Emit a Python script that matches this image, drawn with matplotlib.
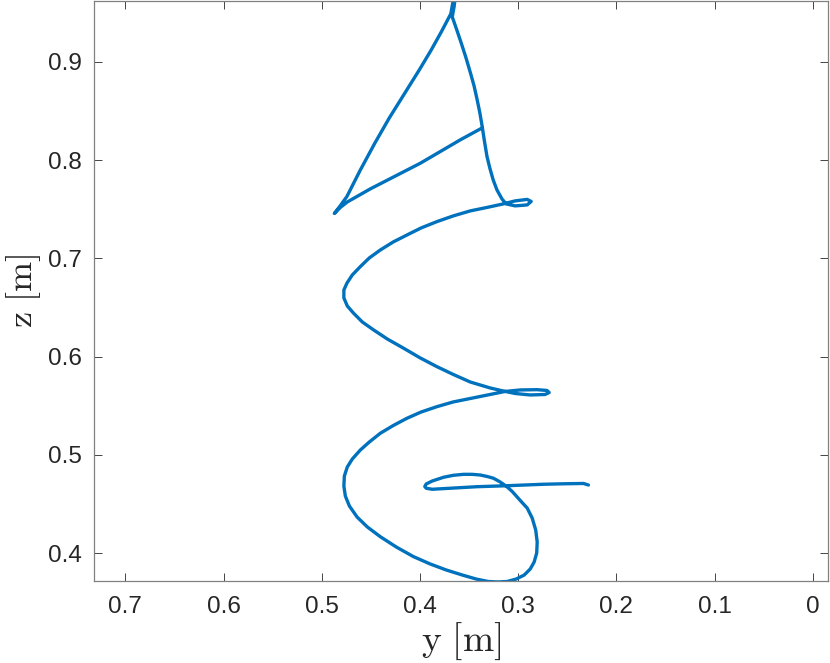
import matplotlib
matplotlib.use("Agg")
import matplotlib.pyplot as plt

# trajectory (horizontal: y [m], vertical: z [m])
y_pos = [0.2284, 0.2335, 0.2521, 0.2742, 0.3114, 0.3420, 0.3691, 0.3875, 0.3936, 0.3951,
         0.3936, 0.3875, 0.3760, 0.3661, 0.3556, 0.3468, 0.3386, 0.3315, 0.3251, 0.3183,
         0.3114, 0.3060, 0.3013, 0.2969, 0.2908, 0.2857, 0.2821, 0.2806, 0.2811, 0.2837,
         0.2877, 0.2938, 0.3020, 0.3111, 0.3203, 0.3305, 0.3427, 0.3569, 0.3732, 0.3895,
         0.4068, 0.4241, 0.4404, 0.4536, 0.4641, 0.4719, 0.4760, 0.4775, 0.4770, 0.4740,
         0.4689, 0.4607, 0.4516, 0.4404, 0.4272, 0.4132, 0.3987, 0.3827, 0.3661, 0.3488,
         0.3315, 0.3132, 0.2979, 0.2809, 0.2707, 0.2684, 0.2725, 0.2877, 0.3030, 0.3132,
         0.3284, 0.3488, 0.3661, 0.3827, 0.3997, 0.4167, 0.4333, 0.4472, 0.4587, 0.4676,
         0.4740, 0.4775, 0.4775, 0.4743, 0.4689, 0.4607, 0.4516, 0.4404, 0.4272, 0.4132,
         0.3987, 0.3827, 0.3661, 0.3488, 0.3318, 0.3152, 0.3030, 0.2908, 0.2867, 0.2908,
         0.3030, 0.3122, 0.3165, 0.3216, 0.3254, 0.3289, 0.3317, 0.3342, 0.3366, 0.3390,
         0.3417, 0.3449, 0.3485, 0.3531, 0.3579, 0.3625, 0.3671, 0.3651, 0.3641, 0.3666,
         0.3686, 0.3783, 0.3885, 0.4007, 0.4155, 0.4312, 0.4460, 0.4607, 0.4745, 0.4821,
         0.4872, 0.4811, 0.4740, 0.4506, 0.3997, 0.3590, 0.3366]
z_pos = [0.4692, 0.4708, 0.4705, 0.4700, 0.4685, 0.4675, 0.4659, 0.4649, 0.4659, 0.4677,
         0.4703, 0.4733, 0.4771, 0.4791, 0.4801, 0.4801, 0.4794, 0.4779, 0.4761, 0.4723,
         0.4675, 0.4626, 0.4573, 0.4524, 0.4458, 0.4356, 0.4234, 0.4112, 0.4000, 0.3908,
         0.3837, 0.3776, 0.3735, 0.3710, 0.3705, 0.3710, 0.3735, 0.3776, 0.3827, 0.3888,
         0.3964, 0.4061, 0.4166, 0.4265, 0.4367, 0.4479, 0.4580, 0.4682, 0.4784, 0.4876,
         0.4957, 0.5049, 0.5130, 0.5219, 0.5298, 0.5372, 0.5436, 0.5490, 0.5538, 0.5573,
         0.5609, 0.5645, 0.5660, 0.5663, 0.5655, 0.5634, 0.5614, 0.5609, 0.5624, 0.5645,
         0.5680, 0.5741, 0.5818, 0.5897, 0.5986, 0.6085, 0.6179, 0.6271, 0.6352, 0.6441,
         0.6515, 0.6597, 0.6678, 0.6749, 0.6831, 0.6916, 0.7004, 0.7085, 0.7167, 0.7238,
         0.7310, 0.7374, 0.7432, 0.7483, 0.7518, 0.7554, 0.7585, 0.7600, 0.7579, 0.7544,
         0.7534, 0.7554, 0.7605, 0.7697, 0.7798, 0.7921, 0.8036, 0.8185, 0.8341, 0.8481,
         0.8613, 0.8756, 0.8885, 0.9041, 0.9190, 0.9326, 0.9458, 0.9570, 0.9662, 0.9601,
         0.9489, 0.9305, 0.9122, 0.8918, 0.8681, 0.8430, 0.8172, 0.7900, 0.7628, 0.7523,
         0.7457, 0.7518, 0.7574, 0.7707, 0.7968, 0.8206, 0.8328]

x_ticks = [0.7, 0.6, 0.5, 0.4, 0.3, 0.2, 0.1, 0]
x_tick_labels = ["0.7", "0.6", "0.5", "0.4", "0.3", "0.2", "0.1", "0"]
z_ticks = [0.4, 0.5, 0.6, 0.7, 0.8, 0.9]
z_tick_labels = ["0.4", "0.5", "0.6", "0.7", "0.8", "0.9"]

plt.rcParams['mathtext.fontset'] = 'cm'
plt.rcParams['font.family'] = ['Liberation Sans', 'DejaVu Sans']

fig = plt.figure(figsize=(8.3, 6.63), dpi=100)
ax = fig.add_axes([94 / 830, 82 / 663, 734 / 830, 580 / 663])

ax.plot(y_pos, z_pos, color='#0072BD', linewidth=2.4,
        solid_joinstyle='round', solid_capstyle='round')

ax.set_xlim(0.732, -0.0156)
ax.set_ylim(0.3715, 0.962)
ax.set_xticks(x_ticks)
ax.set_xticklabels(x_tick_labels)
ax.set_yticks(z_ticks)
ax.set_yticklabels(z_tick_labels)

# matlab style box with inward ticks on all sides
ax.tick_params(direction='in', length=6, width=0.6, colors='#262626', labelsize=17.5,
               top=True, right=True)
ax.tick_params(axis='x', pad=11)
ax.tick_params(axis='y', pad=9)
for s in ax.spines.values():
    s.set_color('#808080')
    s.set_linewidth(0.9)

ax.set_xlabel(r'$\mathrm{y\ [m]}$', fontsize=27, color='#262626', labelpad=2)
ax.set_ylabel(r'$\mathrm{z\ [m]}$', fontsize=26, color='#262626', labelpad=3)

fig.savefig('out.png', dpi=100)
